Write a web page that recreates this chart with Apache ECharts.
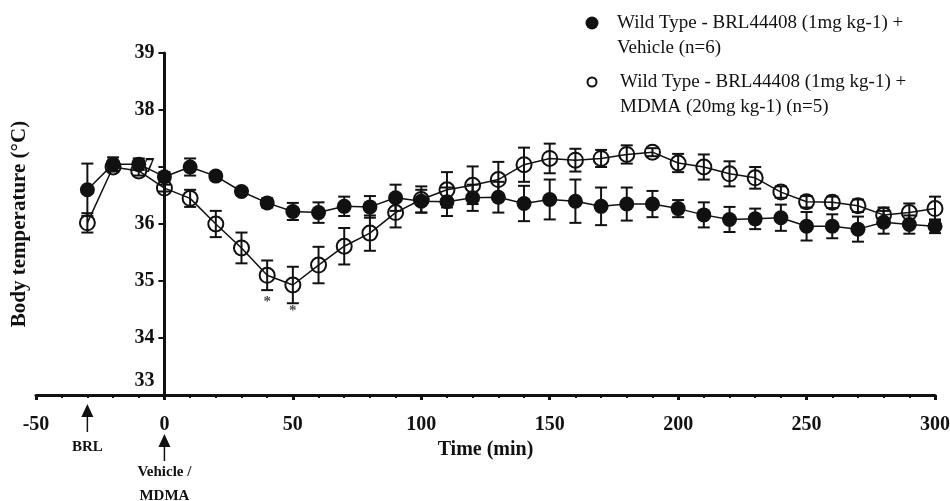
<!DOCTYPE html>
<html>
<head>
<meta charset="utf-8">
<script src="https://cdn.jsdelivr.net/npm/echarts@6/dist/echarts.min.js"></script>
<style>
html, body { margin: 0; padding: 0; background: #fff; }
#chart { width: 950px; height: 501px; }
</style>
</head>
<body>
<div id="chart"></div>
<script>
// time points (min)
const times = [-30, -20, -10, 0, 10, 20, 30, 40, 50, 60, 70, 80, 90, 100, 110, 120, 130, 140, 150,
  160, 170, 180, 190, 200, 210, 220, 230, 240, 250, 260, 270, 280, 290, 300];

// BRL44408 + Vehicle (filled circles)
const vehicleMean = [36.60, 37.05, 37.05, 36.83, 37.00, 36.84, 36.57, 36.37, 36.22, 36.20, 36.31, 36.30,
  36.46, 36.40, 36.39, 36.46, 36.47, 36.36, 36.43, 36.40, 36.31, 36.35, 36.35, 36.27, 36.16, 36.08,
  36.09, 36.11, 35.96, 35.96, 35.91, 36.03, 35.99, 35.96];
const vehicleErr = [0.46, 0.12, 0.10, 0.08, 0.15, 0.07, 0.06, 0.08, 0.15, 0.18, 0.17, 0.19, 0.23, 0.20,
  0.25, 0.23, 0.27, 0.31, 0.35, 0.38, 0.33, 0.29, 0.23, 0.15, 0.22, 0.22, 0.18, 0.23, 0.25, 0.21,
  0.22, 0.20, 0.16, 0.12];

// BRL44408 + MDMA (open circles)
const mdmaMean = [36.02, 37.00, 36.93, 36.63, 36.45, 36.00, 35.58, 35.10, 34.93, 35.28, 35.61, 35.84,
  36.20, 36.43, 36.60, 36.68, 36.78, 37.04, 37.15, 37.12, 37.15, 37.22, 37.26, 37.07, 37.00, 36.88,
  36.81, 36.56, 36.39, 36.38, 36.32, 36.16, 36.20, 36.27];
const mdmaErr = [0.17, 0.08, 0.08, 0.06, 0.15, 0.23, 0.27, 0.26, 0.32, 0.32, 0.32, 0.31, 0.26, 0.23,
  0.31, 0.33, 0.31, 0.30, 0.26, 0.20, 0.15, 0.16, 0.07, 0.16, 0.22, 0.22, 0.19, 0.10, 0.10, 0.10,
  0.11, 0.13, 0.16, 0.21];

// significance marks
const starPoints = [[40, 34.63], [50, 34.47]];

const legendNames = [
  'Wild Type - BRL44408 (1mg kg-1) +\nVehicle (n=6)',
  'Wild Type - BRL44408 (1mg kg-1) +\nMDMA (20mg kg-1) (n=5)'
];

const serif = '"Liberation Serif", "Times New Roman", serif';

const X_MIN = -50, X_MAX = 300;
const GRID = { left: 36, right: 15, top: 53, bottom: 106 };
// y axis sits at t = 0: shift it right from the grid's left edge
const yShift = (0 - X_MIN) * (950 - GRID.left - GRID.right) / (X_MAX - X_MIN);

const pairs = (ys) => times.map((t, i) => [t, ys[i]]);
const errData = (ys, es) => times.map((t, i) => [t, ys[i], es[i]]);

function errorBar(params, api) {
  const x = api.value(0), m = api.value(1), e = api.value(2);
  const top = api.coord([x, m + e]);
  const bot = api.coord([x, m - e]);
  const w = 6;
  const style = { stroke: '#111', lineWidth: 2 };
  return {
    type: 'group',
    children: [
      { type: 'line', shape: { x1: top[0], y1: top[1], x2: bot[0], y2: bot[1] }, style },
      { type: 'line', shape: { x1: top[0] - w, y1: top[1], x2: top[0] + w, y2: top[1] }, style },
      { type: 'line', shape: { x1: bot[0] - w, y1: bot[1], x2: bot[0] + w, y2: bot[1] }, style }
    ]
  };
}

const chart = echarts.init(document.getElementById('chart'));
chart.setOption({
  animation: false,
  grid: Object.assign({ containLabel: false, outerBoundsMode: 'none' }, GRID),
  xAxis: {
    type: 'value',
    min: X_MIN, max: X_MAX, interval: 50,
    name: 'Time (min)',
    nameLocation: 'middle',
    nameGap: 36,
    nameTextStyle: { fontFamily: serif, fontWeight: 'bold', fontSize: 20, color: '#111' },
    axisLine: { lineStyle: { color: '#111', width: 3 } },
    axisTick: { show: true, length: 5, lineStyle: { color: '#111', width: 3 } },
    minorTick: { show: true, splitNumber: 5, length: 3, lineStyle: { color: '#111', width: 2 } },
    axisLabel: { margin: 20, fontFamily: serif, fontWeight: 'bold', fontSize: 20, color: '#111' },
    splitLine: { show: false }
  },
  yAxis: {
    type: 'value',
    min: 33, max: 39, interval: 1,
    offset: -yShift,
    name: 'Body temperature (°C)',
    nameLocation: 'middle',
    nameGap: 134,
    nameTextStyle: { fontFamily: serif, fontWeight: 'bold', fontSize: 21, color: '#111' },
    axisLine: { show: true, onZero: false, lineStyle: { color: '#111', width: 3 } },
    axisTick: { show: true, length: 6, lineStyle: { color: '#111', width: 2 } },
    axisLabel: {
      margin: 10,
      fontFamily: serif, fontWeight: 'bold', fontSize: 20, color: '#111',
      formatter: (v) => v === 33 ? '{low|33}' : String(v),
      rich: { low: { fontFamily: serif, fontWeight: 'bold', fontSize: 20, color: '#111', padding: [0, 0, 28, 0] } }
    },
    splitLine: { show: false }
  },
  series: [
    {
      type: 'custom',
      renderItem: errorBar,
      data: errData(vehicleMean, vehicleErr),
      encode: { x: 0, y: [1] },
      z: 1
    },
    {
      type: 'custom',
      renderItem: errorBar,
      data: errData(mdmaMean, mdmaErr),
      encode: { x: 0, y: [1] },
      z: 1
    },
    {
      name: legendNames[0],
      type: 'line',
      data: pairs(vehicleMean),
      symbol: 'circle',
      symbolSize: 15,
      lineStyle: { color: '#111', width: 1.5 },
      itemStyle: { color: '#111', borderColor: '#111', borderWidth: 0 },
      z: 3
    },
    {
      name: legendNames[1],
      type: 'line',
      data: pairs(mdmaMean),
      symbol: 'circle',
      symbolSize: 15,
      lineStyle: { color: '#111', width: 1.5 },
      itemStyle: { color: 'rgba(255,255,255,0)', borderColor: '#111', borderWidth: 2 },
      z: 4
    },
    {
      type: 'scatter',
      data: starPoints,
      symbolSize: 0,
      silent: true,
      label: {
        show: true, position: 'inside', formatter: '*',
        fontFamily: serif, fontWeight: 'bold', fontSize: 15, color: '#111'
      }
    }
  ]
});

// legend and dosing arrows, placed from the axis scale
const xBRL = chart.convertToPixel({ xAxisIndex: 0 }, -30);
const xDrug = chart.convertToPixel({ xAxisIndex: 0 }, 0);
const lblFont = 'bold 15px ' + serif;
const legFont = '19px ' + serif;

function arrow(x, yHead, yEnd) {
  return [
    { type: 'polygon', shape: { points: [[x, yHead], [x - 6, yHead + 13], [x + 6, yHead + 13]] }, style: { fill: '#111' } },
    { type: 'line', shape: { x1: x, y1: yHead + 12, x2: x, y2: yEnd }, style: { stroke: '#111', lineWidth: 1.5 } }
  ];
}

chart.setOption({
  graphic: [
    ...arrow(xBRL, 404, 432),
    ...arrow(xDrug, 434, 461),
    { type: 'text', x: xBRL, y: 447, style: { text: 'BRL', font: lblFont, fill: '#111', align: 'center', verticalAlign: 'middle' } },
    { type: 'text', x: xDrug, y: 472, style: { text: 'Vehicle /', font: lblFont, fill: '#111', align: 'center', verticalAlign: 'middle' } },
    { type: 'text', x: xDrug, y: 496, style: { text: 'MDMA', font: lblFont, fill: '#111', align: 'center', verticalAlign: 'middle' } },
    { type: 'circle', shape: { cx: 592, cy: 23, r: 6.5 }, style: { fill: '#111' } },
    { type: 'text', x: 617, y: 11, style: { text: legendNames[0], font: legFont, lineHeight: 25, fill: '#111' } },
    { type: 'circle', shape: { cx: 592, cy: 82, r: 4.5 }, style: { fill: '#fff', stroke: '#111', lineWidth: 2 } },
    { type: 'text', x: 620, y: 70, style: { text: legendNames[1], font: legFont, lineHeight: 25, fill: '#111' } }
  ]
});
</script>
</body>
</html>
